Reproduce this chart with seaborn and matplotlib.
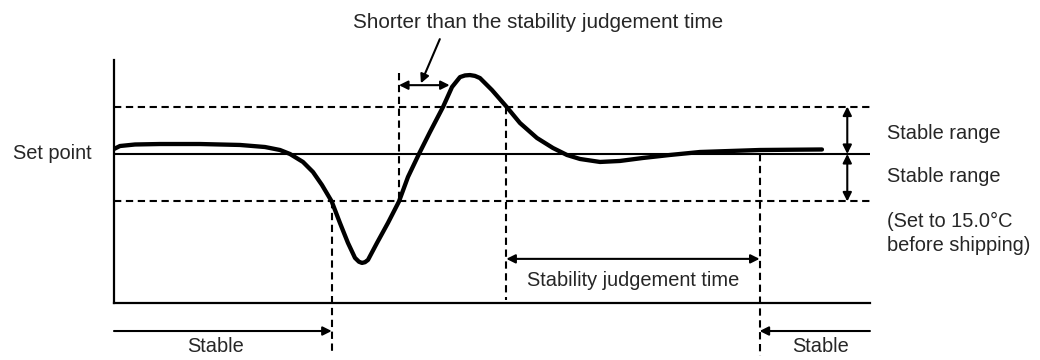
import matplotlib
matplotlib.use("Agg")
import matplotlib.pyplot as plt
import seaborn as sns
import pandas as pd

# Temperature response (deviation from set point, in units of the stable range)
time = [0.0, 0.79, 2.78, 6.08, 11.38, 16.67, 19.97, 21.96, 23.28, 25.0,
        26.32, 27.51, 28.8, 29.89, 30.95, 31.88, 32.4, 32.8, 33.2, 33.6,
        34.79, 36.24, 37.7, 38.89, 40.34, 41.8, 43.52, 44.71, 45.77, 46.43,
        47.09, 47.75, 48.41, 50.0, 51.9, 53.7, 55.95, 58.07, 59.92, 61.64,
        64.29, 66.93, 69.97, 73.54, 77.51, 81.48, 85.45, 93.65]
temp = [0.105, 0.168, 0.2, 0.21, 0.21, 0.19, 0.147, 0.084, 0.0, -0.168,
        -0.379, -0.653, -1.0, -1.453, -1.874, -2.189, -2.27, -2.295, -2.28,
        -2.232, -1.874, -1.453, -1.0, -0.484, 0.0, 0.463, 0.989, 1.41, 1.62,
        1.655, 1.663, 1.645, 1.6, 1.347, 1.0, 0.653, 0.337, 0.126, -0.021,
        -0.105, -0.168, -0.147, -0.084, -0.021, 0.042, 0.063, 0.084, 0.095]

set_point = 0.0
band = 1.0                 # stable range (each side of the set point)
t_leave = 28.8             # leaves the stable range
t_return = 37.7            # re-enters the stable range
t_judge_start = 51.9       # final entry into the stable range
t_judge_end = 85.4         # stability judgement time elapsed
t_end = 100.0

sns.set_theme(style="white")
plt.rcParams["font.family"] = ["Liberation Sans", "DejaVu Sans"]
plt.rcParams["font.size"] = 14.4

fig = plt.figure(figsize=(10.4, 3.6), dpi=100)
ax = fig.add_axes([0.1096, 0.1583, 0.7269, 0.675])
ax.set_xlim(0, t_end)
ax.set_ylim(-3.14, 1.98)
for side in ("top", "right"):
    ax.spines[side].set_visible(False)
for side in ("left", "bottom"):
    ax.spines[side].set_color("black")
    ax.spines[side].set_linewidth(1.6)
ax.set_xticks([])
ax.set_yticks([])

dash = dict(color="black", lw=1.5, dashes=(3.5, 2.2), clip_on=False)

# set point and stable range boundaries
ax.plot([0, t_end], [set_point, set_point], color="black", lw=1.5)
ax.plot([0, t_end], [set_point + band] * 2, **dash)
ax.plot([0, t_end], [set_point - band] * 2, **dash)

# measured temperature
df = pd.DataFrame({"time": time, "temp": temp})
sns.lineplot(data=df, x="time", y="temp", ax=ax, color="black", lw=3.1,
             sort=False, solid_joinstyle="round", solid_capstyle="round")
ax.set_xlabel("")
ax.set_ylabel("")

# event markers
ax.plot([t_leave, t_leave], [set_point - band, -4.2], **dash)
ax.plot([t_return, t_return], [1.71, set_point - band], **dash)
ax.plot([t_judge_start, t_judge_start], [set_point + band, -3.07], **dash)
ax.plot([t_judge_end, t_judge_end], [set_point, -4.25], **dash)

arrow_both = dict(arrowstyle="<|-|>", color="black", lw=1.5,
                  mutation_scale=13, shrinkA=0, shrinkB=0)
arrow_one = dict(arrowstyle="-|>", color="black", lw=1.5,
                 mutation_scale=13, shrinkA=0, shrinkB=0)

# stable range arrows
ax.annotate("", xy=(97.0, set_point + band), xytext=(97.0, set_point),
            arrowprops=arrow_both, annotation_clip=False)
ax.annotate("", xy=(97.0, set_point), xytext=(97.0, set_point - band),
            arrowprops=arrow_both, annotation_clip=False)

# interval that was too short
ax.annotate("", xy=(44.4, 1.45), xytext=(t_return, 1.45),
            arrowprops=arrow_both, annotation_clip=False)
ax.annotate("", xy=(40.6, 1.49), xytext=(43.1, 2.42),
            arrowprops=arrow_one, annotation_clip=False)
ax.text(56.1, 2.76, "Shorter than the stability judgement time",
        ha="center", va="center", fontsize=14.9)

# stability judgement time
ax.annotate("", xy=(t_judge_end, -2.21), xytext=(t_judge_start, -2.21),
            arrowprops=arrow_both, annotation_clip=False)
ax.text((t_judge_start + t_judge_end) / 2, -2.66, "Stability judgement time",
        ha="center", va="center")

# stable periods below the axis
ax.annotate("", xy=(t_leave, -3.73), xytext=(0, -3.73),
            arrowprops=arrow_one, annotation_clip=False)
ax.text(13.4, -4.05, "Stable", ha="center", va="center")
ax.annotate("", xy=(t_judge_end, -3.73), xytext=(t_end, -3.73),
            arrowprops=arrow_one, annotation_clip=False)
ax.text(93.4, -4.05, "Stable", ha="center", va="center")

# labels
ax.text(-2.9, set_point, "Set point", ha="right", va="center")
ax.text(102.2, 0.44, "Stable range", ha="left", va="center")
ax.text(102.2, -0.48, "Stable range", ha="left", va="center")
ax.text(102.2, -1.43, "(Set to 15.0°C", ha="left", va="center")
ax.text(102.2, -1.92, "before shipping)", ha="left", va="center")

fig.savefig("out.png", dpi=100)
